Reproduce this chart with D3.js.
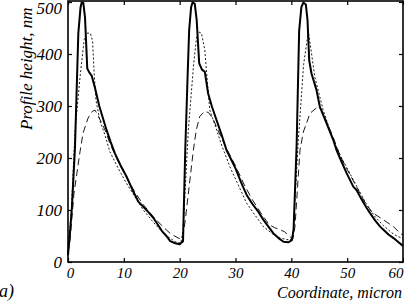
<!DOCTYPE html>
<html>
<head>
<meta charset="utf-8">
<script src="https://cdn.jsdelivr.net/npm/d3@7"></script>
<style>
  html, body { margin: 0; padding: 0; background: #fff; }
  svg { display: block; }
</style>
</head>
<body>
<svg width="404" height="303"></svg>
<script>
// профиль поверхности: три кривые, точки [координата, высота]
const solidPts = [
    [0,13],[0.35,55],[0.7,105],[1.25,220],[1.85,440],[2.25,490],[2.45,499],[2.75,498],[3.05,470],
    [3.45,372],[3.8,365],[4.25,358],[4.85,334],[5.6,300],[6.3,275],[6.9,254],[7.6,232],[8.4,209],
    [9.4,186],[10.5,164],[11.5,140],[12.6,116],[13.5,106],[14.4,96],[15.2,86],[15.9,75],[16.8,60],
    [17.7,49],[18.3,40],[19.2,36],[20.0,34],[20.6,40],
    [21.0,215],[21.4,350],[21.7,446],[22.05,490],[22.3,499],[22.7,497],[23.05,465],[23.5,382],
    [24.0,370],[24.5,366],[25.1,324],[25.8,298],[26.6,273],[27.5,245],[28.4,215],[29.0,202],
    [30.0,180],[31.0,153],[32.0,129],[33.0,112],[34.0,98],[35.0,81],[35.9,68],[36.8,55],[37.7,46],
    [38.6,39],[39.5,38],[40.1,42],
    [40.4,62],[40.95,225],[41.4,445],[41.8,490],[42.15,499],[42.6,495],[42.9,465],[43.2,388],
    [43.6,363],[44.5,331],[45.1,299],[46.3,267],[47.5,235],[48.1,215],[48.7,200],[49.9,171],
    [51.1,145],[51.7,138],[52.6,120],[53.5,104],[54.1,94],[55.0,80],[55.9,68],[56.5,62],[57.4,53],
    [58.3,46],[59.2,38],[60,31]
];

const dottedPts = [
    [0,20],[0.6,100],[1.25,250],[2.15,355],[2.9,428],[3.3,440],[4.0,440],[4.4,425],[4.7,360],
    [5.0,312],[5.7,272],[6.6,245],[7.5,212],[9.0,180],[10.5,151],[12.0,125],[13.5,100],[15.0,80],
    [16.5,62],[18.0,48],[19.2,39],[20.2,36],
    [20.6,60],[21.55,254],[22.5,380],[23.0,430],[23.3,443],[23.9,440],[24.5,408],[25.0,340],
    [25.4,292],[26.5,258],[27.5,225],[29,183],[30.5,148],[32,113],[33.5,90],[35,68],[36.5,55],
    [38,46],[39.8,42],[40.3,50],
    [41.25,235],[42.2,380],[43.05,443],[43.5,410],[44.2,356],[45.7,292],[47.5,235],[49,200],
    [50.5,170],[52,140],[53.5,110],[55,87],[56.5,70],[58,56],[58.9,50],[60,45]
];

const dashedPts = [
    [0,18],[0.36,42],[1.07,132],[2.15,212],[2.7,248],[3.6,277],[4.4,290],[4.84,292],[5.3,283],
    [6.0,268],[6.8,250],[7.5,228],[9,193],[10.5,162],[12,134],[13.5,110],[15.3,87],[16.8,70],
    [18.3,55],[19.75,46],[20.5,44],
    [21.0,80],[22.45,215],[23.0,255],[23.6,280],[24.5,290],[25.2,287],[26,275],[27,250],
    [28.4,218],[30,185],[31.5,150],[33,120],[34.5,95],[36,72],[37,66],[38,62],[38.8,58],
    [39.8,48],[40.3,45],
    [40.65,68],[41.55,215],[42.15,250],[43.35,286],[44.8,299],[45.4,292],[46.3,270],[47.5,240],
    [48.7,205],[50,178],[51.5,148],[53,118],[54.5,95],[56.5,81],[58.3,68],[59.5,55],[60,52]
];

const xTicks = [0, 10, 20, 30, 40, 50, 60];
const yTicks = [0, 100, 200, 300, 400, 500];

const FONT = '"Liberation Serif", "Times New Roman", "DejaVu Serif", serif';

const svg = d3.select("svg");

// область графика
const area = { left: 68, right: 403, top: 1, bottom: 262 };

const scX = d3.scaleLinear().domain([0, 60]).range([area.left, area.right]);
const scY = d3.scaleLinear().domain([0, 500]).range([area.bottom, area.top + 1]);

// оси: засечки внутрь рамки
const axB = svg.append("g")
    .attr("transform", `translate(0, ${area.bottom})`)
    .call(d3.axisBottom(scX).tickValues(xTicks).tickSize(-4).tickPadding(5));
axB.selectAll("text")
    .attr("font-family", FONT).attr("font-style", "italic").attr("font-size", 15)
    .attr("text-anchor", d => d === 60 ? "end" : "middle")
    .attr("dx", d => d === 0 ? 2 : 0);

const axL = svg.append("g")
    .attr("transform", `translate(${area.left}, 0)`)
    .call(d3.axisLeft(scY).tickValues(yTicks).tickSize(-4).tickPadding(6));
axL.selectAll("text")
    .attr("font-family", FONT).attr("font-style", "italic").attr("font-size", 17)
    .attr("y", d => d === 500 ? 6 : 0);

svg.append("g")
    .attr("transform", `translate(0, ${area.top})`)
    .call(d3.axisTop(scX).tickValues(xTicks).tickSize(-4).tickFormat(""));

svg.append("g")
    .attr("transform", `translate(${area.right}, 0)`)
    .call(d3.axisRight(scY).tickValues(yTicks).tickSize(-4).tickFormat(""));

svg.selectAll(".domain").remove();
svg.selectAll(".tick line").attr("stroke", "#000").attr("stroke-width", 1.2);

// рамка
svg.append("rect")
    .attr("x", area.left)
    .attr("y", area.top)
    .attr("width", area.right - area.left)
    .attr("height", area.bottom - area.top)
    .attr("fill", "none")
    .attr("stroke", "#000")
    .attr("stroke-width", 1.6);

const line = d3.line().x(d => scX(d[0])).y(d => scY(d[1]));

svg.append("path").datum(dashedPts)
    .attr("d", line).attr("fill", "none")
    .attr("stroke", "#000").attr("stroke-width", 0.9)
    .attr("stroke-dasharray", "7,4");

svg.append("path").datum(dottedPts)
    .attr("d", line).attr("fill", "none")
    .attr("stroke", "#000").attr("stroke-width", 0.9)
    .attr("stroke-dasharray", "2,2");

svg.append("path").datum(solidPts)
    .attr("d", line).attr("fill", "none")
    .attr("stroke", "#000").attr("stroke-width", 2)
    .attr("stroke-linejoin", "round");

// подписи осей
svg.append("text")
    .attr("x", 402).attr("y", 298)
    .attr("text-anchor", "end")
    .attr("font-family", FONT).attr("font-style", "italic").attr("font-size", 16)
    .text("Coordinate, micron");

svg.append("text")
    .attr("transform", "translate(32, 130) rotate(-90)")
    .attr("font-family", FONT).attr("font-style", "italic").attr("font-size", 17)
    .text("Profile height, nm");

svg.append("text")
    .attr("x", -1).attr("y", 297)
    .attr("font-family", FONT).attr("font-style", "italic").attr("font-size", 18)
    .text("a)");
</script>
</body>
</html>
